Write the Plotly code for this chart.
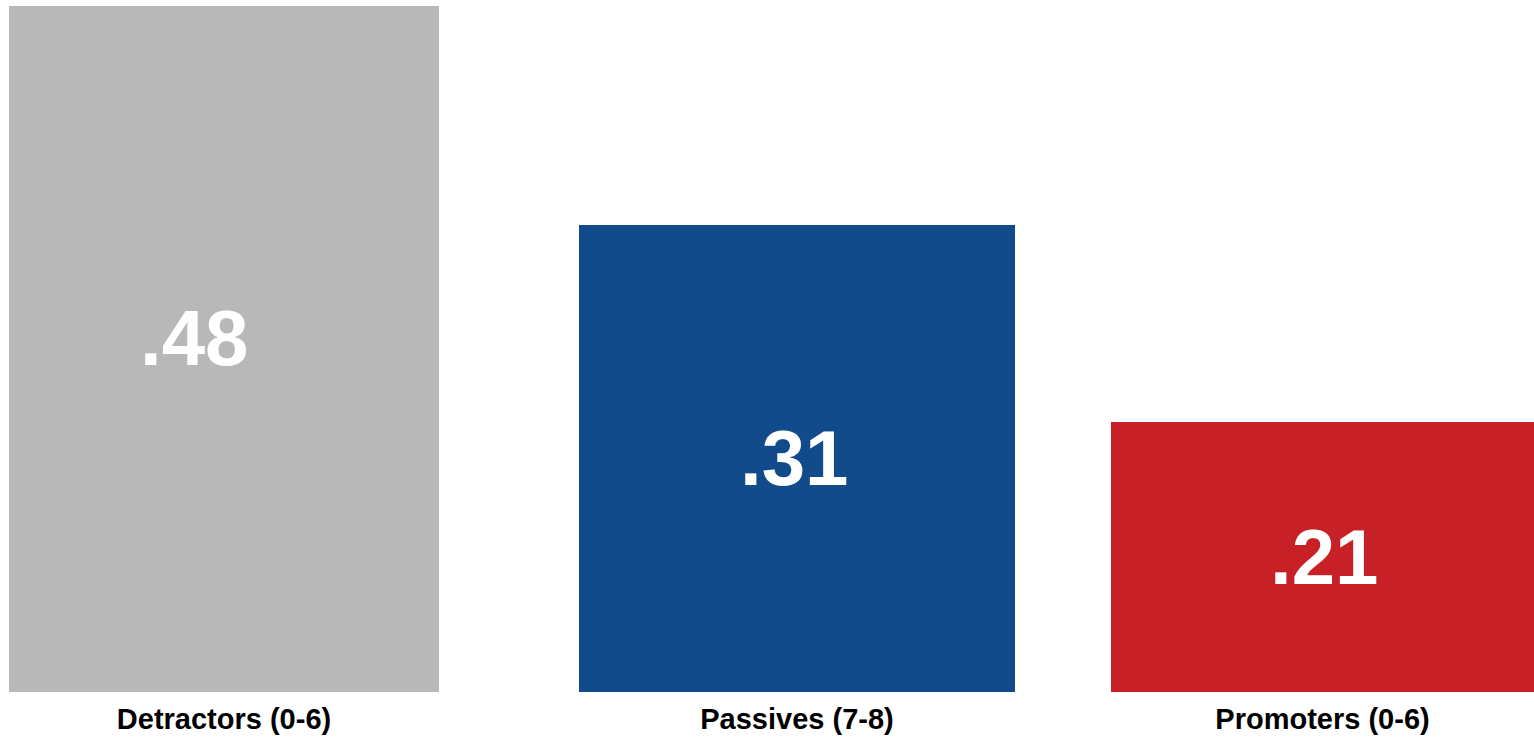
import plotly.graph_objects as go

categories = ["Detractors (0-6)", "Passives (7-8)", "Promoters (0-6)"]
values = [0.48, 0.327, 0.189]
value_labels = [".48", ".31", ".21"]
x_centers = [224, 797, 1322.5]
bar_widths = [430, 436, 423]
colors = ["#b8b8b8", "#124b8b", "#c82027"]
label_xshift_px = [-30, -3, 1]
label_yshift_px = [11, 0, 0]

FONT = "Liberation Sans, Arial, sans-serif"

fig = go.Figure(go.Bar(
    x=x_centers,
    y=values,
    width=bar_widths,
    marker=dict(color=colors, line=dict(width=0)),
    hoverinfo="skip",
))

for xc, v, lab, xs, ys in zip(x_centers, values, value_labels, label_xshift_px, label_yshift_px):
    fig.add_annotation(
        x=xc, y=v / 2, text="<b>%s</b>" % lab, showarrow=False,
        xanchor="center", yanchor="middle", xshift=xs, yshift=ys,
        font=dict(family=FONT, size=78, color="white"),
    )

fig.update_layout(
    width=1534,
    height=737,
    margin=dict(l=0, r=0, t=0, b=45),
    paper_bgcolor="white",
    plot_bgcolor="white",
    showlegend=False,
    bargap=0,
    font=dict(family=FONT),
)
fig.update_xaxes(
    range=[0, 1534],
    tickvals=x_centers,
    ticktext=["<b>%s</b>" % c for c in categories],
    tickfont=dict(size=29, color="black"),
    showgrid=False,
    zeroline=False,
    showline=False,
    ticks="",
    ticklabelstandoff=7,
)
fig.update_yaxes(
    range=[0, 0.48 * 692 / 686],
    visible=False,
    showgrid=False,
    zeroline=False,
)

fig.write_html(
    "out.html",
    config={"displayModeBar": False},
    post_script="document.body.style.margin='0';document.body.style.overflow='hidden';",
)
